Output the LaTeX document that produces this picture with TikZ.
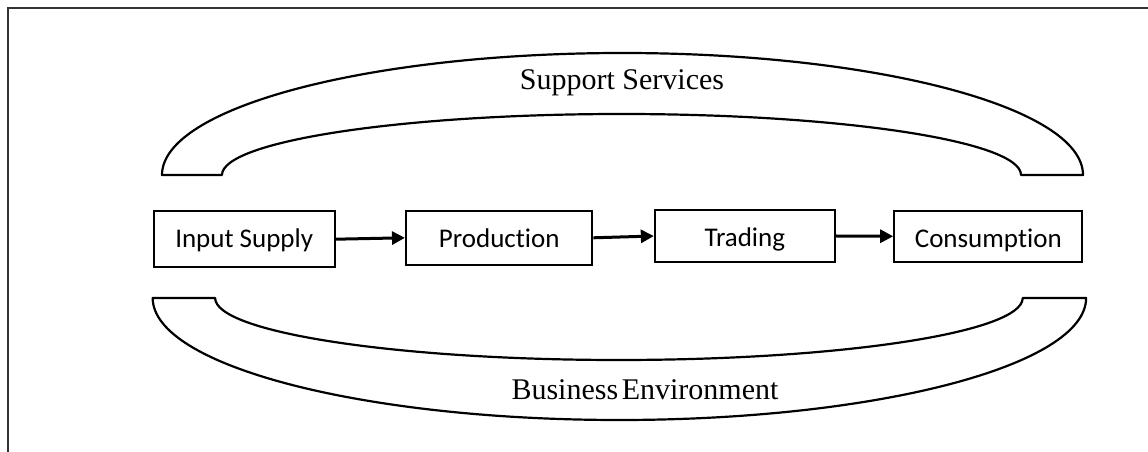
\documentclass[tikz,border=0pt]{standalone}
\usepackage{fontspec}
\setmainfont{Liberation Serif}
\newfontfamily\boxfont[Ligatures=NoCommon]{Carlito}
\usetikzlibrary{arrows.meta}
\begin{document}
\begin{tikzpicture}[x=1pt,y=1pt,
  stagebox/.style={draw=black,line width=2.2pt,inner sep=0pt,
    font=\boxfont\fontsize{27}{30}\selectfont,
    text height=20pt,text depth=4pt},
  flow/.style={line width=3pt,-{Triangle[length=13pt,width=13pt]}},
  arch/.style={draw=black,line width=2.2pt,line join=round},
  label/.style={font=\fontsize{30}{34}\selectfont,anchor=base,inner sep=0pt}]
\useasboundingbox (0,0) rectangle (1148,452);
% frame (top and left edges)
\draw[line width=2.4pt,black!80] (1148,444) -- (8,444) -- (8,0);
% stage boxes
\node[stagebox,minimum width=181pt,minimum height=56.3pt] (a) at (244.2,212.8) {Input Supply};
\node[stagebox,minimum width=186.3pt,minimum height=53.7pt,text height=21.5pt,text depth=3pt] (b) at (499.2,214.2) {Production};
\node[stagebox,minimum width=179.7pt,minimum height=51.4pt,text height=23pt,text depth=1pt] (c) at (744.8,216) {Trading};
\node[stagebox,minimum width=188pt,minimum height=50.7pt,text height=23pt,text depth=1pt] (d) at (988.3,215.7) {Consumption};
\draw[flow] (a.east) -- (b.west);
\draw[flow] (b.east) -- (c.west);
\draw[flow] (c.east) -- (d.west);
% support services arch
\draw[arch] (162,277) arc[start angle=180,end angle=0,x radius=460.5pt,y radius=122pt]
  -- (1021,277) arc[start angle=0,end angle=180,x radius=399.5pt,y radius=61pt] -- cycle;
% business environment arch
\draw[arch] (152.7,154) arc[start angle=180,end angle=360,x radius=466.7pt,y radius=122pt]
  -- (1022.7,154) arc[start angle=360,end angle=180,x radius=403.8pt,y radius=62pt] -- cycle;
\node[label] (ss) at (622,362) {Support Services};
\node[label] (be) at (645,52) {Business\hspace{0.12em}Environment};
\end{tikzpicture}
\end{document}
